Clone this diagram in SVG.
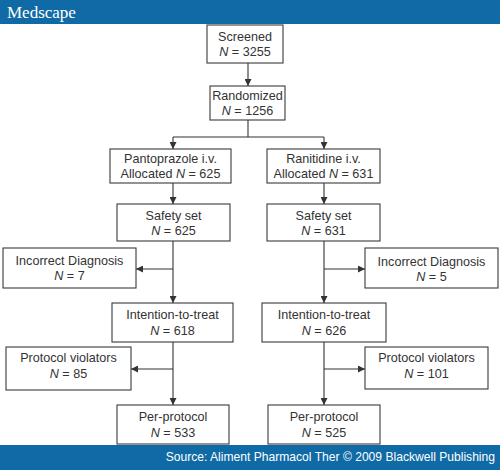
<svg xmlns="http://www.w3.org/2000/svg" width="500" height="470" viewBox="0 0 500 470">
<style>
.box rect{fill:#fff;stroke:#3a3a3a;stroke-width:1.1}
.box text{font-family:"Liberation Sans",Arial,sans-serif;font-size:12.6px;fill:#333;text-anchor:middle}
.n{font-style:italic}
.conn line,.conn path{stroke:#333;stroke-width:1.1;fill:none}
</style>
<defs>
<marker id="ah" viewBox="0 0 8 8" refX="8" refY="4" markerWidth="7" markerHeight="7" markerUnits="userSpaceOnUse" orient="auto">
<path d="M0,0 L8,4 L0,8 z" fill="#333"/>
</marker>
</defs>
<rect width="500" height="470" fill="#fff"/>
<g id="header">
<rect x="0" y="0" width="500" height="24" fill="#0f6aa5"/>
<text x="7" y="18" font-family="Liberation Serif,'Times New Roman',serif" font-size="17" fill="#fff">Medscape</text>
</g>
<g id="footer">
<rect x="0" y="445" width="500" height="25" fill="#0f6aa5"/>
<text x="495" y="461" font-family="Liberation Sans,Arial,sans-serif" font-size="12.1" fill="#fff" text-anchor="end">Source: Aliment Pharmacol Ther © 2009 Blackwell Publishing</text>
</g>
<g class="conn" id="connectors">
<line x1="248" y1="63" x2="248" y2="86" marker-end="url(#ah)"/>
<path d="M248,120 V137 M173,137 H324"/>
<line x1="173" y1="137" x2="173" y2="149" marker-end="url(#ah)"/>
<line x1="324" y1="137" x2="324" y2="149" marker-end="url(#ah)"/>
<line x1="173" y1="183" x2="173" y2="204" marker-end="url(#ah)"/>
<line x1="324" y1="183" x2="324" y2="204" marker-end="url(#ah)"/>
<line x1="173" y1="241" x2="173" y2="303" marker-end="url(#ah)"/>
<line x1="173" y1="269" x2="136" y2="269" marker-end="url(#ah)"/>
<line x1="324" y1="241" x2="324" y2="303" marker-end="url(#ah)"/>
<line x1="324" y1="269" x2="365" y2="269" marker-end="url(#ah)"/>
<line x1="173" y1="342" x2="173" y2="405" marker-end="url(#ah)"/>
<line x1="173" y1="369" x2="131" y2="369" marker-end="url(#ah)"/>
<line x1="324" y1="342" x2="324" y2="405" marker-end="url(#ah)"/>
<line x1="324" y1="369" x2="365" y2="369" marker-end="url(#ah)"/>
</g>
<g class="box" id="screened"><rect x="207" y="25" width="76" height="38"/><text x="245" y="41">Screened</text><text x="245" y="56"><tspan class="n">N</tspan> = 3255</text></g>
<g class="box" id="randomized"><rect x="210" y="86" width="75" height="34"/><text x="247.5" y="100">Randomized</text><text x="247.5" y="115"><tspan class="n">N</tspan> = 1256</text></g>
<g class="box" id="panto"><rect x="110" y="149" width="121" height="34"/><text x="170.5" y="163">Pantoprazole i.v.</text><text x="170.5" y="178">Allocated <tspan class="n">N</tspan> = 625</text></g>
<g class="box" id="ranit"><rect x="267" y="149" width="113" height="34"/><text x="323.5" y="163">Ranitidine i.v.</text><text x="323.5" y="178">Allocated <tspan class="n">N</tspan> = 631</text></g>
<g class="box" id="safety-l"><rect x="117" y="204" width="113" height="37"/><text x="173.5" y="220">Safety set</text><text x="173.5" y="235"><tspan class="n">N</tspan> = 625</text></g>
<g class="box" id="safety-r"><rect x="267" y="204" width="113" height="37"/><text x="323.5" y="220">Safety set</text><text x="323.5" y="235"><tspan class="n">N</tspan> = 631</text></g>
<g class="box" id="incorrect-l"><rect x="3" y="248" width="133" height="40"/><text x="69.5" y="265">Incorrect Diagnosis</text><text x="69.5" y="280"><tspan class="n">N</tspan> = 7</text></g>
<g class="box" id="incorrect-r"><rect x="365" y="248" width="133" height="40"/><text x="431.5" y="266">Incorrect Diagnosis</text><text x="431.5" y="281"><tspan class="n">N</tspan> = 5</text></g>
<g class="box" id="itt-l"><rect x="112" y="303" width="121" height="39"/><text x="172.5" y="319">Intention-to-treat</text><text x="172.5" y="335"><tspan class="n">N</tspan> = 618</text></g>
<g class="box" id="itt-r"><rect x="262" y="303" width="124" height="39"/><text x="324" y="319">Intention-to-treat</text><text x="324" y="335"><tspan class="n">N</tspan> = 626</text></g>
<g class="box" id="pv-l"><rect x="6" y="347" width="125" height="43"/><text x="68.5" y="362">Protocol violators</text><text x="68.5" y="378"><tspan class="n">N</tspan> = 85</text></g>
<g class="box" id="pv-r"><rect x="365" y="347" width="123" height="42"/><text x="426.5" y="362">Protocol violators</text><text x="426.5" y="378"><tspan class="n">N</tspan> = 101</text></g>
<g class="box" id="pp-l"><rect x="117" y="405" width="112" height="39"/><text x="173" y="421">Per-protocol</text><text x="173" y="437"><tspan class="n">N</tspan> = 533</text></g>
<g class="box" id="pp-r"><rect x="268" y="405" width="112" height="39"/><text x="324" y="421">Per-protocol</text><text x="324" y="437"><tspan class="n">N</tspan> = 525</text></g>
</svg>
